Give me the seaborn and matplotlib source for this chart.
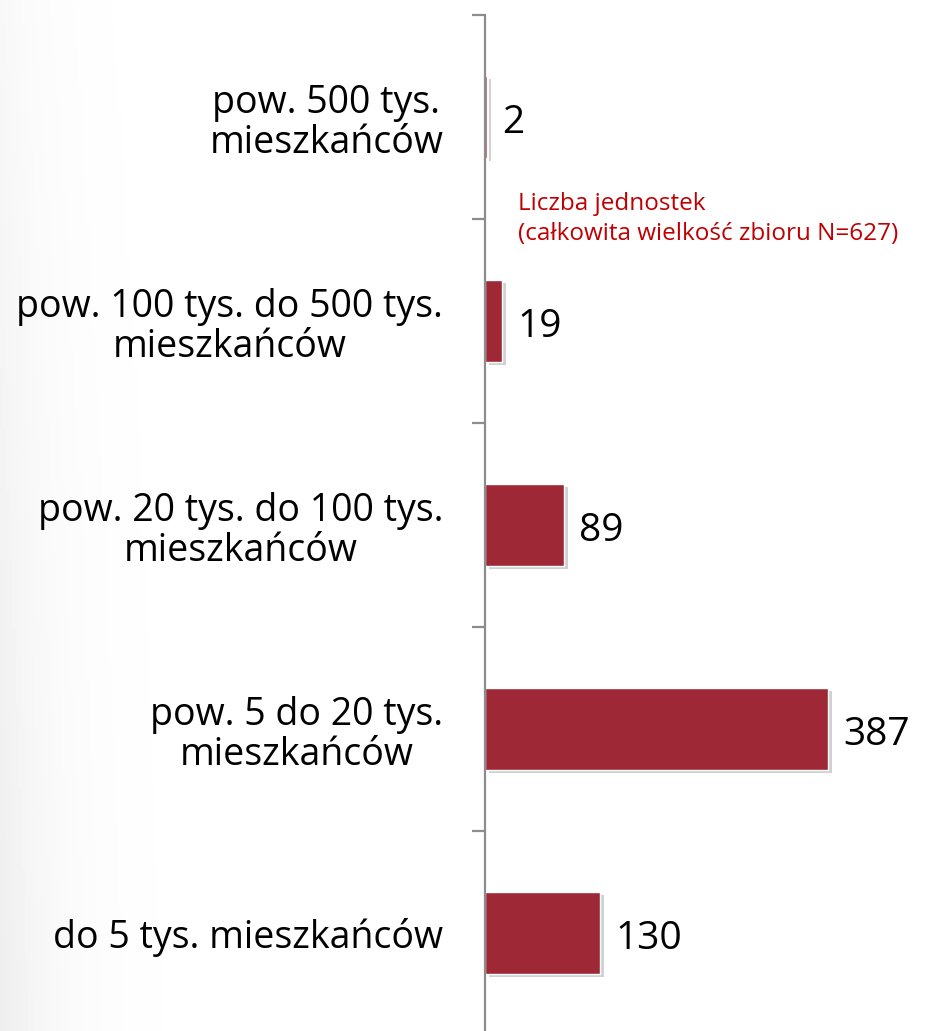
import numpy as np
import pandas as pd
import seaborn as sns
import matplotlib.pyplot as plt
import matplotlib.patheffects as pe
from matplotlib.ticker import FixedLocator

# data (top to bottom)
categories = [
    "pow. 500 tys.\nmieszkańców",
    "pow. 100 tys. do 500 tys.\nmieszkańców",
    "pow. 20 tys. do 100 tys.\nmieszkańców",
    "pow. 5 do 20 tys.\nmieszkańców",
    "do 5 tys. mieszkańców",
]
counts = [2, 19, 89, 387, 130]
legend_text = "Liczba jednostek\n(całkowita wielkość zbioru N=627)"

df = pd.DataFrame({"kategoria": categories, "liczba": counts})

sns.set_theme(style="white")
plt.rcParams['font.family'] = ['Open Sans', 'DejaVu Sans']

fig = plt.figure(figsize=(9.3, 10.31), dpi=100)

# faint grey shading on the left edge of the slide background
bg = fig.add_axes([0, 0, 1, 1], zorder=-1)
xx, yy = np.meshgrid(np.linspace(0, 1, 300), np.linspace(0, 1, 300))
shade = 1 - 0.07 * np.exp(-xx / 0.06) * (0.4 + 0.6 * yy)
bg.imshow(shade, cmap='gray', vmin=0, vmax=1, aspect='auto', extent=[0, 1, 0, 1])
bg.axis('off')

ax = fig.add_axes([0.5215, -0.0039, 0.4785, 0.98935])
ax.set_facecolor('none')

sns.barplot(data=df, y="kategoria", x="liczba", color="#9E2835", saturation=1,
            width=0.4, orient="h", ax=ax)

# soft drop shadow like the original slide
for bar in ax.patches:
    bar.set_path_effects([pe.SimplePatchShadow(offset=(3, -2), shadow_rgbFace='black', alpha=0.18),
                          pe.Normal()])

value_labels = ax.bar_label(ax.containers[0], labels=[str(v) for v in counts], padding=11,
                            fontsize=28, color='black')
for t in value_labels:
    t.xyann = (11, -4)

ax.set_xlim(0, 502)
ax.set_ylim(4.5, -0.5)
ax.set_xlabel("")
ax.set_ylabel("")
ax.set_xticks([])

for side in ["top", "right", "bottom"]:
    ax.spines[side].set_visible(False)
ax.spines["left"].set_color("#8C8C8C")
ax.spines["left"].set_linewidth(1.6)

ax.yaxis.set_minor_locator(FixedLocator(np.arange(-0.5, 5, 1)))
ax.tick_params(axis='y', which='major', length=0, pad=30, labelsize=27, labelcolor='black')
ax.tick_params(axis='y', which='minor', length=9.5, width=1.6, color='#8C8C8C', left=True)
for lbl in ax.get_yticklabels():
    lbl.set_multialignment('center')
    lbl.set_linespacing(1.08)

ax.text(37, 0.5, legend_text, color="#C00000", fontsize=17.5, ha='left', va='center',
        linespacing=1.35)

fig.savefig("out.png", dpi=100)
